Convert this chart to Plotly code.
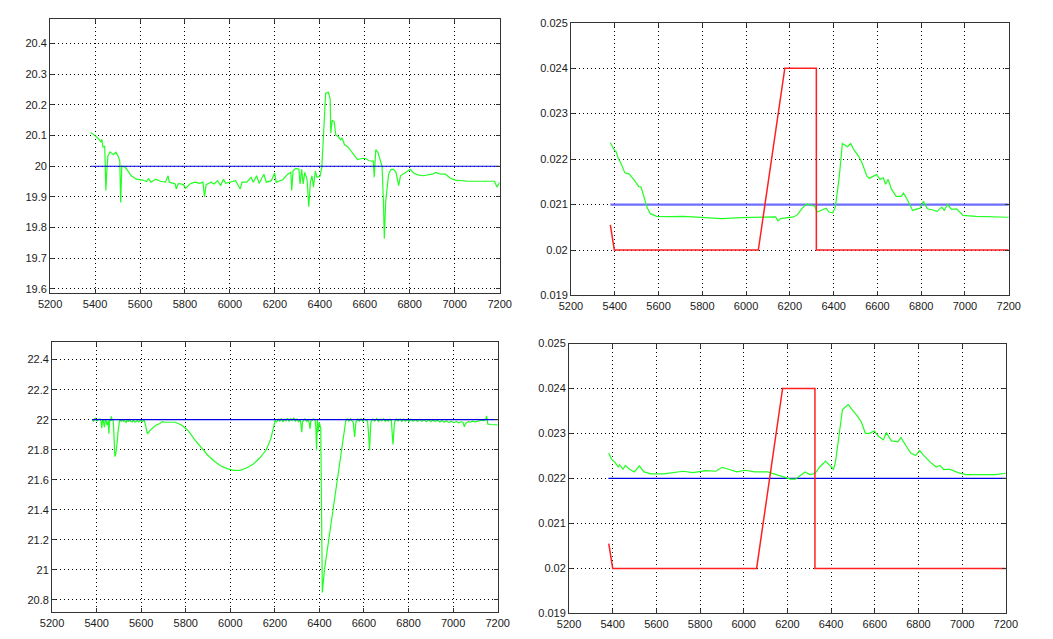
import plotly.graph_objects as go

# ---------------- data ----------------
X_TICKS = [5200, 5400, 5600, 5800, 6000, 6200, 6400, 6600, 6800, 7000, 7200]
X_TICK_TEXT = ["5200", "5400", "5600", "5800", "6000", "6200", "6400", "6600", "6800", "7000", "7200"]

TL_Y_TICKS = [19.6, 19.7, 19.8, 19.9, 20.0, 20.1, 20.2, 20.3, 20.4]
TL_Y_TEXT = ["19.6", "19.7", "19.8", "19.9", "20", "20.1", "20.2", "20.3", "20.4"]
BL_Y_TICKS = [20.8, 21.0, 21.2, 21.4, 21.6, 21.8, 22.0, 22.2, 22.4]
BL_Y_TEXT = ["20.8", "21", "21.2", "21.4", "21.6", "21.8", "22", "22.2", "22.4"]
R_Y_TICKS = [0.019, 0.020, 0.021, 0.022, 0.023, 0.024, 0.025]
R_Y_TEXT = ["0.019", "0.02", "0.021", "0.022", "0.023", "0.024", "0.025"]

# top-left: measured (green) and setpoint (blue)
tl_x = [5380, 5401, 5420, 5426, 5430, 5435, 5443, 5448, 5452, 5457, 5467, 5481, 5493, 5503, 5510,
        5514, 5519, 5532, 5546, 5561, 5583, 5612, 5629, 5638, 5648, 5670, 5691, 5713, 5725, 5730,
        5757, 5761, 5771, 5793, 5803, 5822, 5843, 5865, 5880, 5887, 5894, 5916, 5930, 5945, 5959,
        5971, 5981, 6003, 6025, 6046, 6054, 6075, 6094, 6104, 6119, 6130, 6151, 6162, 6184, 6199,
        6206, 6235, 6257, 6271, 6275, 6281, 6293, 6307, 6312, 6319, 6326, 6333, 6343, 6351, 6358,
        6365, 6372, 6380, 6387, 6401, 6409, 6416, 6426, 6438, 6446, 6449, 6455, 6464, 6471, 6481,
        6493, 6499, 6510, 6525, 6539, 6554, 6568, 6590, 6604, 6619, 6638, 6642, 6649, 6658, 6667,
        6677, 6683, 6687, 6693, 6699, 6706, 6717, 6728, 6739, 6751, 6759, 6778, 6793, 6803, 6817,
        6836, 6858, 6880, 6901, 6916, 6938, 6959, 6981, 7003, 7061, 7119, 7177, 7188, 7200]
tl_y = [20.110, 20.099, 20.086, 20.078, 20.088, 20.063, 20.065, 19.921, 19.980, 20.033, 20.047, 20.038,
        20.046, 20.033, 20.017, 19.882, 20.000, 19.998, 19.985, 19.969, 19.958, 19.955, 19.950, 19.960,
        19.948, 19.958, 19.951, 19.948, 19.969, 19.948, 19.942, 19.926, 19.944, 19.940, 19.928, 19.942,
        19.948, 19.944, 19.948, 19.900, 19.940, 19.948, 19.942, 19.953, 19.937, 19.958, 19.944, 19.948,
        19.953, 19.926, 19.948, 19.948, 19.964, 19.948, 19.969, 19.944, 19.974, 19.948, 19.953, 19.978,
        19.948, 19.956, 19.974, 19.980, 19.921, 19.985, 19.993, 19.990, 19.942, 19.990, 19.942, 19.980,
        19.958, 19.868, 19.948, 19.969, 19.932, 19.985, 19.964, 19.967, 19.996, 20.097, 20.238, 20.241,
        20.220, 20.108, 20.150, 20.145, 20.102, 20.097, 20.086, 20.092, 20.070, 20.063, 20.049, 20.035,
        20.022, 20.026, 20.025, 20.018, 20.017, 19.964, 20.054, 20.046, 20.022, 20.000, 19.884, 19.764,
        19.884, 19.926, 19.974, 19.990, 19.990, 19.980, 19.937, 19.969, 19.978, 19.985, 19.990, 19.978,
        19.972, 19.969, 19.972, 19.974, 19.980, 19.974, 19.974, 19.961, 19.955, 19.951, 19.951, 19.951,
        19.932, 19.948]
tl_ref_x = [5380, 7200]
tl_ref_y = [20.0, 20.0]

# bottom-left: measured (green) and setpoint (blue)
bl_x = [5380, 5386, 5391, 5394, 5399, 5404, 5410, 5416, 5420, 5423, 5426, 5429, 5432, 5435, 5438,
        5442, 5445, 5448, 5452, 5455, 5458, 5460, 5463, 5466, 5469, 5472, 5475, 5477, 5480, 5482,
        5486, 5489, 5493, 5496, 5500, 5504, 5510, 5516, 5522, 5526, 5532, 5538, 5543, 5547, 5553,
        5559, 5565, 5571, 5577, 5583, 5589, 5595, 5599, 5605, 5609, 5613,
        5620, 5628, 5642, 5664, 5686, 5696, 5708, 5752, 5781, 5810, 5839, 5869, 5898, 5927, 5956,
        5985, 6015, 6044, 6073, 6102, 6131, 6161, 6182, 6201,
        6208, 6215, 6222, 6229, 6236, 6243, 6250, 6257, 6264, 6271, 6278, 6285, 6292, 6299, 6306,
        6314, 6318, 6321, 6324, 6328, 6335, 6343, 6350, 6355, 6358, 6361, 6365, 6372, 6380, 6384,
        6387, 6391, 6394, 6399,
        6406, 6413, 6423, 6518,
        6525, 6532, 6540, 6546, 6552, 6555, 6558, 6561, 6564, 6572, 6580, 6587, 6595, 6602, 6610,
        6616, 6620, 6623, 6625, 6628, 6631, 6640, 6648, 6657, 6665, 6673, 6680, 6688, 6695, 6701,
        6709, 6716, 6723, 6727, 6730, 6734, 6737, 6745, 6753, 6762, 6770, 6778, 6786, 6794, 6802,
        6810, 6820, 6830, 6840, 6850, 6860, 6870, 6880, 6890, 6900, 6910, 6920, 6930, 6940, 6950,
        6960, 6970, 6980, 6993, 7005, 7015, 7025, 7035, 7044, 7048, 7051, 7054, 7058, 7068, 7078,
        7088, 7098, 7109, 7118, 7128, 7138, 7146, 7150, 7153, 7156, 7170, 7182, 7200]
bl_y = [22.000, 21.990, 22.006, 22.009, 21.995, 21.993, 22.004, 22.004, 21.985, 21.943, 21.990, 22.000,
        21.975, 21.950, 21.992, 21.998, 21.970, 21.965, 21.995, 21.906, 21.985, 22.004, 21.990, 22.022,
        21.996, 22.004, 21.985, 21.939, 21.850, 21.754, 21.770, 21.798, 21.860, 21.917, 21.990, 22.004,
        21.990, 21.999, 21.988, 21.993, 21.982, 21.997, 21.986, 22.000, 21.990, 21.985, 21.996, 21.984,
        21.987, 21.995, 21.985, 21.993, 21.998, 21.986, 21.995, 22.000,
        21.961, 21.906, 21.932, 21.961, 21.976, 21.987, 21.983, 21.983, 21.965, 21.928, 21.869, 21.812,
        21.765, 21.725, 21.693, 21.674, 21.663, 21.663, 21.678, 21.704, 21.743, 21.798, 21.874, 21.993,
        21.985, 22.003, 21.990, 22.008, 21.986, 22.002, 21.992, 22.010, 21.988, 22.006, 21.995, 22.012,
        21.990, 22.004, 21.987, 22.000, 21.960, 21.917, 21.985, 21.993, 22.006, 21.988, 22.004, 21.970,
        21.939, 21.990, 21.993, 22.005, 22.000, 21.950, 21.797, 22.004, 21.917, 21.983,
        21.940, 20.850, 21.005, 21.990,
        22.008, 21.990, 22.006, 21.992, 21.983, 21.930, 21.885, 21.940, 21.983, 22.004, 21.990, 22.006,
        21.988, 22.004, 21.992, 21.990, 21.917, 21.850, 21.797, 21.900, 21.983, 22.004, 21.990, 22.006,
        21.988, 22.003, 21.992, 22.006, 21.988, 22.000, 21.990, 22.004, 21.993, 21.900, 21.835, 21.920,
        21.983, 22.004, 21.990, 22.005, 21.988, 22.003, 21.990, 22.002, 21.986, 22.003, 21.990, 22.001,
        21.988, 22.002, 21.989, 22.000, 21.987, 21.999, 21.986, 21.998, 21.988, 21.996, 21.984, 21.994,
        21.983, 21.993, 21.982, 21.989, 21.980, 21.988, 21.979, 21.986, 21.983, 21.965, 21.952, 21.970,
        21.978, 21.987, 21.983, 21.990, 21.985, 21.989, 21.992, 21.996, 21.994, 22.000, 22.026, 21.990,
        21.970, 21.968, 21.967, 21.965]
bl_ref_x = [5380, 7200]
bl_ref_y = [22.0, 22.0]

# top-right: measured (green), reference (blue), command (red)
tr_x = [5380, 5391, 5398, 5406, 5416, 5428, 5446, 5465, 5487, 5510, 5520, 5532, 5547, 5562, 5592,
        5651, 5711, 5755, 5800, 5890, 5979, 6038, 6098, 6135, 6146, 6158, 6217, 6235, 6254, 6277,
        6299, 6314, 6324, 6344, 6366, 6378, 6396, 6408, 6426, 6440, 6451, 6463, 6478, 6493, 6515,
        6530, 6552, 6563, 6582, 6597, 6612, 6627, 6637, 6649, 6664, 6686, 6709, 6719, 6735, 6761,
        6783, 6795, 6810, 6828, 6850, 6872, 6894, 6905, 6920, 6939, 6962, 6991, 7051, 7140, 7200]
tr_y = [0.022358, 0.022257, 0.022200, 0.022164, 0.022020, 0.021912, 0.021697, 0.021675, 0.021553,
        0.021395, 0.021388, 0.021194, 0.020943, 0.020799, 0.020741, 0.020734, 0.020741, 0.020727,
        0.020713, 0.020691, 0.020713, 0.020720, 0.020727, 0.020727, 0.020641, 0.020691, 0.020727,
        0.020777, 0.020906, 0.021014, 0.020978, 0.020964, 0.020835, 0.020871, 0.020920, 0.020835,
        0.020820, 0.020942, 0.021625, 0.022343, 0.022307, 0.022272, 0.022343, 0.022200, 0.022056,
        0.021912, 0.021625, 0.021575, 0.021625, 0.021661, 0.021553, 0.021589, 0.021445, 0.021553,
        0.021338, 0.021180, 0.021180, 0.021250, 0.021122, 0.020870, 0.020906, 0.020920, 0.021072,
        0.020906, 0.020885, 0.020849, 0.020942, 0.020870, 0.021000, 0.020892, 0.020906, 0.020763,
        0.020741, 0.020727, 0.020720]
tr_ref_x = [5380, 7200]
tr_ref_y = [0.021, 0.021]
tr_cmd_x = [5380, 5398, 6056, 6177, 6321, 6321, 7200]
tr_cmd_y = [0.02055, 0.020, 0.020, 0.024, 0.024, 0.020, 0.020]

# bottom-right: measured (green), reference (blue), command (red)
br_x = [5382, 5395, 5410, 5425, 5432, 5447, 5458, 5477, 5499, 5522, 5544, 5574, 5633, 5678, 5723,
        5767, 5827, 5872, 5901, 5931, 5968, 6006, 6050, 6110, 6147, 6184, 6214, 6236, 6259, 6281,
        6303, 6326, 6348, 6375, 6393, 6411, 6420, 6438, 6452, 6467, 6479, 6497, 6519, 6539, 6557,
        6575, 6598, 6616, 6639, 6653, 6676, 6706, 6720, 6743, 6765, 6787, 6805, 6825, 6854, 6881,
        6899, 6914, 6944, 6981, 7018, 7093, 7152, 7200]
br_y = [0.022567, 0.022422, 0.022364, 0.022255, 0.022305, 0.022204, 0.022291, 0.022204, 0.022145,
        0.022276, 0.022145, 0.022102, 0.022102, 0.022124, 0.022160, 0.022131, 0.022175, 0.022160,
        0.022247, 0.022204, 0.022145, 0.022182, 0.022145, 0.022145, 0.022087, 0.022015, 0.021985,
        0.021985, 0.022058, 0.022145, 0.022087, 0.022109, 0.022255, 0.022385, 0.022291, 0.022204,
        0.022364, 0.023018, 0.023527, 0.023600, 0.023644, 0.023527, 0.023396, 0.023250, 0.023004,
        0.023004, 0.023055, 0.022945, 0.022858, 0.023018, 0.022836, 0.022815, 0.022909, 0.022727,
        0.022567, 0.022509, 0.022625, 0.022509, 0.022364, 0.022255, 0.022291, 0.022204, 0.022204,
        0.022131, 0.022087, 0.022087, 0.022087, 0.022116]
br_ref_x = [5380, 7200]
br_ref_y = [0.022, 0.022]
br_cmd_x = [5382, 5400, 6059, 6178, 6326, 6326, 7200]
br_cmd_y = [0.02055, 0.020, 0.020, 0.024, 0.024, 0.020, 0.020]

# ---------------- figure ----------------
GREEN = "#22ff22"
RED = "#ff2020"
BLUE_DARK = "#0000e6"
BLUE_LIGHT = "#6e6eff"

fig = go.Figure()

def line(x, y, color, width, xa, ya):
    fig.add_trace(go.Scatter(x=x, y=y, mode="lines", line=dict(color=color, width=width),
                             xaxis=xa, yaxis=ya, hoverinfo="skip", showlegend=False))

# top-left
line(tl_x, tl_y, GREEN, 1.2, "x", "y")
line(tl_ref_x, tl_ref_y, BLUE_DARK, 1.2, "x", "y")
# top-right
line(tr_ref_x, tr_ref_y, BLUE_LIGHT, 2.2, "x2", "y2")
line(tr_x, tr_y, GREEN, 1.2, "x2", "y2")
line(tr_cmd_x, tr_cmd_y, RED, 1.5, "x2", "y2")
# bottom-left
line(bl_x, bl_y, GREEN, 1.2, "x3", "y3")
line(bl_ref_x, bl_ref_y, BLUE_DARK, 1.2, "x3", "y3")
# bottom-right
line(br_ref_x, br_ref_y, BLUE_DARK, 1.2, "x4", "y4")
line(br_x, br_y, GREEN, 1.2, "x4", "y4")
line(br_cmd_x, br_cmd_y, RED, 1.5, "x4", "y4")

W, H = 1053, 639

def xdom(l, r):
    return [l / W, r / W]

def ydom(t, b):
    return [1 - b / H, 1 - t / H]

def axis(domain, rng, vals, text, anchor):
    return dict(domain=domain, range=rng, tickmode="array", tickvals=vals, ticktext=text,
                showgrid=True, gridcolor="#000000", gridwidth=1, griddash="1px,3px",
                zeroline=False, showline=True, linecolor="#333333", linewidth=1,
                mirror="allticks", ticks="inside", ticklen=4, tickcolor="#333333",
                tickfont=dict(family="Arial", size=11, color="#1a1a1a"),
                anchor=anchor, fixedrange=True)

fig.update_layout(
    width=W, height=H,
    margin=dict(l=0, r=0, t=0, b=0),
    paper_bgcolor="white", plot_bgcolor="white",
    showlegend=False,
    xaxis=axis(xdom(39, 499), [5200, 7200], X_TICKS, X_TICK_TEXT, "y"),
    yaxis=axis(ydom(13, 293), [19.585, 20.481], TL_Y_TICKS, TL_Y_TEXT, "x"),
    xaxis2=axis(xdom(572, 1020), [5200, 7200], X_TICKS, X_TICK_TEXT, "y2"),
    yaxis2=axis(ydom(17, 295), [0.019, 0.025], R_Y_TICKS, R_Y_TEXT, "x2"),
    xaxis3=axis(xdom(41, 497), [5200, 7200], X_TICKS, X_TICK_TEXT, "y3"),
    yaxis3=axis(ydom(342, 618), [20.717, 22.52], BL_Y_TICKS, BL_Y_TEXT, "x3"),
    xaxis4=axis(xdom(570, 1017), [5200, 7200], X_TICKS, X_TICK_TEXT, "y4"),
    yaxis4=axis(ydom(344, 619), [0.019, 0.025], R_Y_TICKS, R_Y_TEXT, "x4"),
)

fig.write_html("out.html")
